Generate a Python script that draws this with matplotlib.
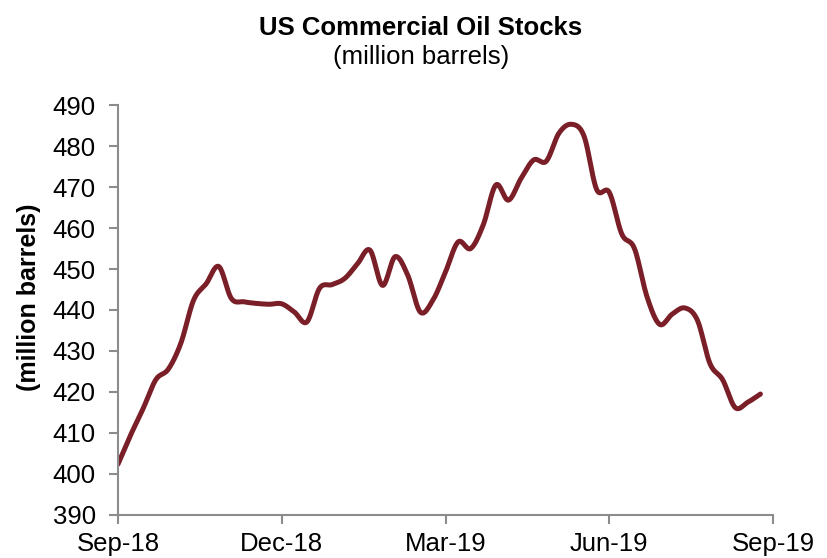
import numpy as np
import matplotlib
matplotlib.use("Agg")
import matplotlib.pyplot as plt

# Weekly US commercial crude oil stocks (million barrels), late Sep-2018 to Sep-2019
stocks = [
    402.4, 409.5, 416.0, 423.0, 425.6, 432.0, 442.4, 446.4, 450.6, 442.8,
    442.0, 441.6, 441.4, 441.5, 439.5, 437.1, 445.3, 446.2, 447.7, 451.2,
    454.6, 446.0, 453.0, 448.5, 439.5, 442.4, 449.3, 456.6, 455.0, 460.8,
    470.5, 466.8, 472.1, 476.6, 476.3, 483.1, 485.3, 482.4, 469.4, 468.7,
    458.5, 455.0, 443.2, 436.5, 439.0, 440.5, 437.5, 426.9, 423.0, 416.2,
    417.5, 419.5,
]
tick_labels = ["Sep-18", "Dec-18", "Mar-19", "Jun-19", "Sep-19"]
tick_step = 13  # one label per quarter (13 weeks)
y_ticks = list(range(390, 491, 10))

LINE_COLOR = "#7A1F27"
AXIS_COLOR = "#8C8C8C"
FONT = "Liberation Sans"


def smooth_path(y, samples=20):
    """Catmull-Rom spline through the weekly points (smoothed line)."""
    x = np.arange(len(y), dtype=float)
    pts = np.column_stack([x, np.asarray(y, dtype=float)])
    padded = np.vstack([2 * pts[0] - pts[1], pts, 2 * pts[-1] - pts[-2]])
    out = []
    t = np.linspace(0, 1, samples, endpoint=False)[:, None]
    for i in range(1, len(padded) - 2):
        p0, p1, p2, p3 = padded[i - 1], padded[i], padded[i + 1], padded[i + 2]
        seg = 0.5 * ((2 * p1) + (-p0 + p2) * t
                     + (2 * p0 - 5 * p1 + 4 * p2 - p3) * t ** 2
                     + (-p0 + 3 * p1 - 3 * p2 + p3) * t ** 3)
        out.append(seg)
    out.append(pts[-1][None, :])
    out = np.vstack(out)
    return out[:, 0], out[:, 1]


plt.rcParams["font.family"] = [FONT, "DejaVu Sans"]

fig = plt.figure(figsize=(8.27, 5.58), dpi=100)
ax = fig.add_axes([0.1427, 0.0771, 0.792, 0.7347])

sx, sy = smooth_path(stocks)
ax.plot(sx, sy, color=LINE_COLOR, linewidth=3.6, solid_capstyle="round",
        solid_joinstyle="round")

ax.set_xlim(0, tick_step * (len(tick_labels) - 1))
ax.set_ylim(y_ticks[0], y_ticks[-1])
ax.set_xticks([i * tick_step for i in range(len(tick_labels))])
ax.set_xticklabels(tick_labels)
ax.set_yticks(y_ticks)

for side in ("top", "right"):
    ax.spines[side].set_visible(False)
for side in ("left", "bottom"):
    ax.spines[side].set_color(AXIS_COLOR)
    ax.spines[side].set_linewidth(1.5)

ax.tick_params(axis="both", direction="out", length=6.5, width=1.5,
               color=AXIS_COLOR, labelsize=18.5, labelcolor="black")
ax.tick_params(axis="y", pad=9.5)
ax.tick_params(axis="x", pad=6)

ax.set_ylabel("(million barrels)", fontsize=18, fontweight="bold")
ax.yaxis.set_label_coords(-0.117, 0.53)

fig.text(0.509, 0.950, "US Commercial Oil Stocks", ha="center", va="center",
         fontsize=18.5, fontweight="bold")
fig.text(0.509, 0.897, "(million barrels)", ha="center", va="center",
         fontsize=18.5)

fig.savefig("out.png", dpi=100, facecolor="white")
